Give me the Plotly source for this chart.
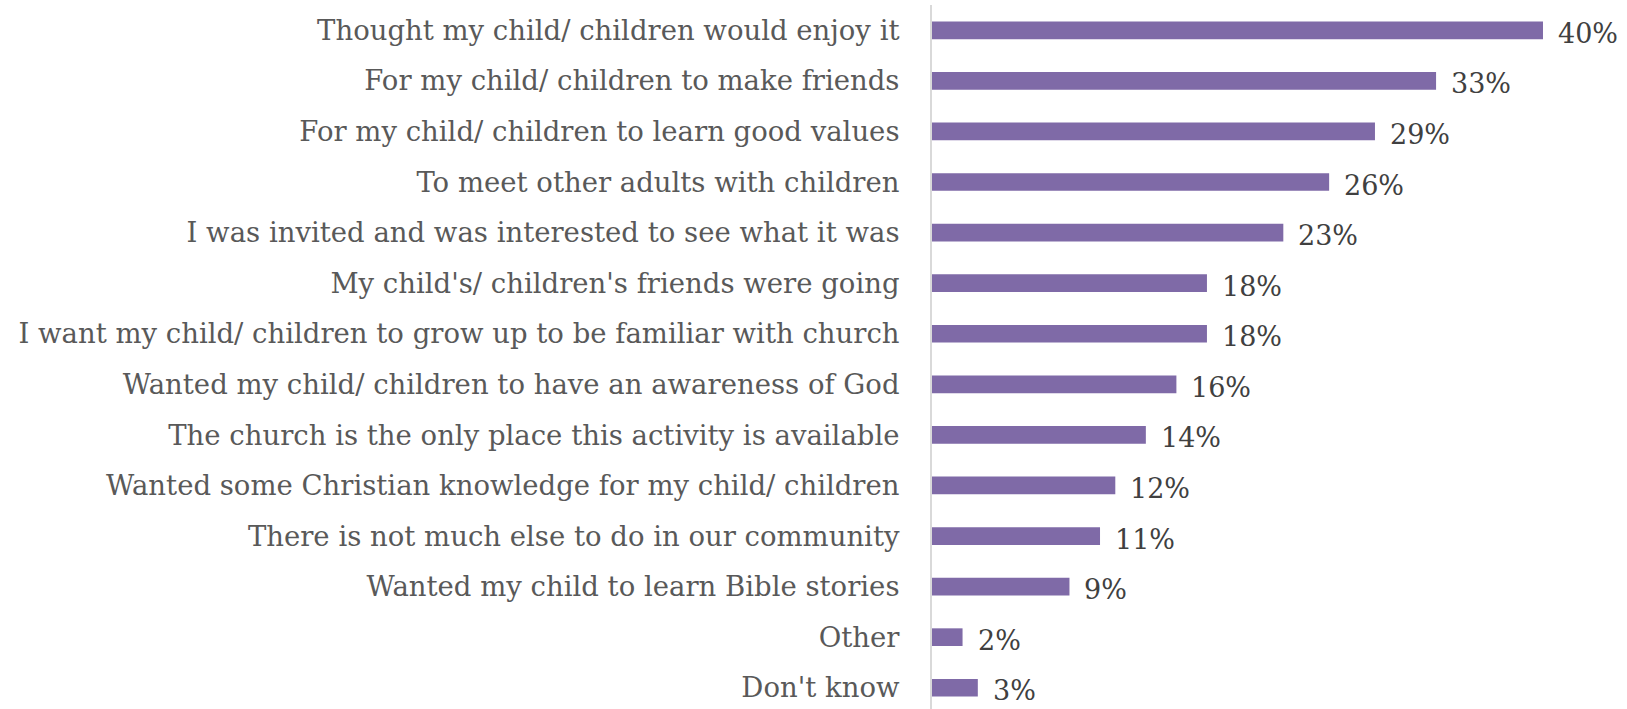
import plotly.graph_objects as go

# Reasons given, top to bottom
categories = [
    "Thought my child/ children would enjoy it",
    "For my child/ children to make friends",
    "For my child/ children to learn good values",
    "To meet other adults with children",
    "I was invited and was interested to see what it was",
    "My child's/ children's friends were going",
    "I want my child/ children to grow up to be familiar with church",
    "Wanted my child/ children to have an awareness of God",
    "The church is the only place this activity is available",
    "Wanted some Christian knowledge for my child/ children",
    "There is not much else to do in our community",
    "Wanted my child to learn Bible stories",
    "Other",
    "Don't know",
]
percent = [40, 33, 29, 26, 23, 18, 18, 16, 14, 12, 11, 9, 2, 3]

BAR_COLOR = "#7f6aa7"
FONT = "DejaVu Serif"

fig = go.Figure(
    go.Bar(
        x=percent,
        y=categories,
        orientation="h",
        marker=dict(color=BAR_COLOR, line=dict(width=0)),
        hoverinfo="skip",
    )
)

# value labels to the right of each bar
for cat, val in zip(categories, percent):
    fig.add_annotation(
        x=val, y=cat, text=f"{val}%", showarrow=False,
        xanchor="left", yanchor="middle", xshift=13, yshift=-3,
        font=dict(family=FONT, size=27, color="#404040"),
    )

fig.update_layout(
    width=1627, height=709,
    margin=dict(l=932, r=0, t=5, b=0),
    paper_bgcolor="white", plot_bgcolor="white",
    bargap=0.65,
    showlegend=False,
    font=dict(family=FONT),
)
fig.update_xaxes(
    range=[0, 45.5], showgrid=False, zeroline=False,
    showticklabels=False, ticks="", showline=False,
)
fig.update_yaxes(
    type="category", range=[13.42, -0.5],
    showgrid=False, zeroline=False, ticks="",
    showline=True, linecolor="#d9d9d9", linewidth=2,
    ticklabelstandoff=25,
    tickfont=dict(family=FONT, size=27.5, color="#595959"),
    automargin=False,
)

fig.write_html("out.html")
